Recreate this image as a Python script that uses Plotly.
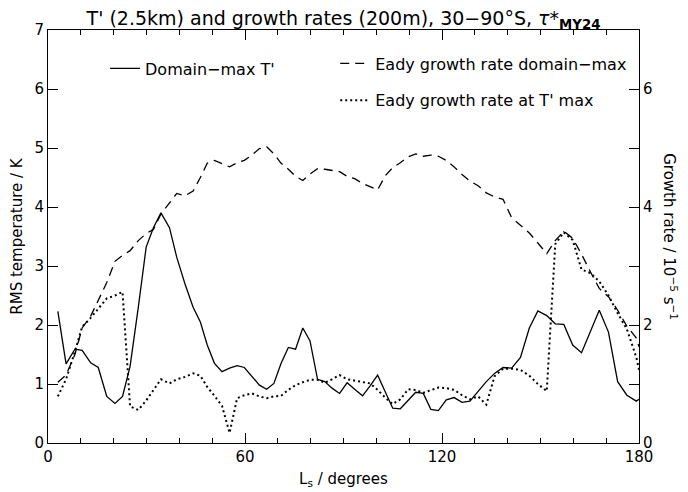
import plotly.graph_objects as go

# Solar longitude (degrees)
ls = [3, 5.5, 8.2, 10.4, 13, 15.3, 17.9, 20.4, 22.7, 25, 27.5, 29.9, 32.1, 34.4, 37, 39.2,
      41.7, 44.2, 46.4, 48.5, 50.7, 53, 55.3, 57.6, 59.8, 62.1, 64.4, 66.6, 68.8, 71, 73.2,
      75.4, 77.6, 79.8, 82.1, 84.3, 86.5, 88.8, 91.1, 93.4, 95.8, 98.1, 100.4, 102.7, 105,
      107.3, 109.7, 112, 114.3, 116.6, 118.9, 121.3, 123.7, 126.1, 128.5, 131, 133.5, 136,
      138.6, 141.2, 143.9, 146.6, 149.2, 151.9, 154.5, 157.1, 159.8, 162.5, 165.2, 167.9,
      170.7, 173.5, 176.3, 179.2, 180]

# Domain-max T' (K)
t_max = [2.23, 1.34, 1.59, 1.57, 1.36, 1.28, 0.79, 0.67, 0.79, 1.3, 2.3, 3.32, 3.65, 3.9,
         3.65, 3.15, 2.7, 2.3, 2.05, 1.66, 1.35, 1.21, 1.27, 1.31, 1.28, 1.12, 0.98, 0.91,
         1.01, 1.35, 1.62, 1.59, 1.95, 1.73, 1.08, 1.04, 0.93, 0.84, 1.02, 0.91, 0.8, 0.97,
         1.15, 0.87, 0.59, 0.58, 0.73, 0.86, 0.84, 0.57, 0.55, 0.73, 0.77, 0.69, 0.71, 0.87,
         1.04, 1.18, 1.28, 1.27, 1.45, 1.95, 2.24, 2.16, 2.02, 2.01, 1.66, 1.53, 1.88, 2.25,
         1.88, 1.04, 0.81, 0.71, 0.74]

# Eady growth rate domain-max (1e-5 s^-1)
eady_max = [1.03, 1.15, 1.5, 1.95, 2.15, 2.42, 2.72, 3.08, 3.18, 3.26, 3.43, 3.55, 3.62,
            3.88, 4.08, 4.23, 4.19, 4.27, 4.5, 4.74, 4.79, 4.73, 4.68, 4.75, 4.79, 4.88,
            4.99, 5.02, 4.9, 4.74, 4.64, 4.52, 4.45, 4.56, 4.65, 4.64, 4.62, 4.6, 4.52, 4.48,
            4.4, 4.34, 4.29, 4.53, 4.67, 4.75, 4.85, 4.9, 4.86, 4.88, 4.86, 4.79, 4.68, 4.55,
            4.44, 4.36, 4.24, 4.17, 4.13, 3.82, 3.69, 3.56, 3.39, 3.21, 3.43, 3.59, 3.47, 3.2,
            2.9, 2.62, 2.48, 2.25, 1.98, 1.78, 1.63]

# Eady growth rate at T' max (1e-5 s^-1)
eady_at_t = [0.79, 1.08, 1.55, 1.97, 2.12, 2.27, 2.45, 2.5, 2.56, 0.62, 0.56, 0.72, 0.9,
             1.08, 1.01, 1.08, 1.12, 1.18, 1.14, 0.95, 0.8, 0.63, 0.17, 0.76, 0.81, 0.84,
             0.79, 0.76, 0.79, 0.8, 0.9, 0.98, 1.03, 1.07, 1.07, 1.02, 1.08, 1.15, 1.08, 1.06,
             1.03, 1.01, 0.9, 0.77, 0.66, 0.74, 0.91, 0.9, 0.85, 0.9, 0.94, 0.93, 0.9, 0.81,
             0.74, 0.79, 0.65, 1.13, 1.26, 1.26, 1.24, 1.14, 1.0, 0.88, 3.37, 3.57, 3.44, 2.94,
             2.88, 2.74, 2.5, 2.2, 1.93, 1.45, 1.24]

x_ticks = [0, 60, 120, 180]
left_ticks = [0, 1, 2, 3, 4, 5, 6, 7]
right_ticks = [0, 2, 4, 6]

FONT = "DejaVu Sans"

fig = go.Figure()
fig.add_trace(go.Scatter(x=ls, y=t_max, mode="lines", name="Domain\u2212max T'",
                         line=dict(color="black", width=1.3), legend="legend", showlegend=True))
fig.add_trace(go.Scatter(x=ls, y=eady_max, mode="lines", name="Eady growth rate domain\u2212max",
                         line=dict(color="black", width=1.3, dash="9px,6px"), yaxis="y2",
                         legend="legend2", legendgroup="a", showlegend=True))
fig.add_trace(go.Scatter(x=ls, y=eady_at_t, mode="lines", name="Eady growth rate at T' max",
                         line=dict(color="black", width=2, dash="2px,3px"), yaxis="y2",
                         legend="legend2", legendgroup="b", showlegend=True))

axis_common = dict(showgrid=False, zeroline=False, showline=True, linecolor="black",
                   linewidth=1, ticks="inside", tickcolor="black", automargin=False,
                   tickfont=dict(family=FONT, size=15, color="black"))

# The page body adds an 8px offset, so the figure is sized 8px smaller to fit the window.
fig.update_layout(
    width=680, height=484,
    margin=dict(l=40, r=49, t=22, b=49, autoexpand=False),
    plot_bgcolor="white", paper_bgcolor="white",
    showlegend=True,
    font=dict(family=FONT, size=15, color="black"),
    title=dict(text="T' (2.5km) and growth rates (200m), 30\u221290\u00b0S, <i>\u03c4</i>*<sub><b>MY24</b></sub>",
               x=0.5, xanchor="center", xref="paper", y=1.0, yanchor="bottom", yref="paper",
               pad=dict(b=5), automargin=False,
               font=dict(family=FONT, size=19, color="black")),
    xaxis=dict(range=[0, 180], tickvals=x_ticks, ticklen=10,
               minor=dict(dtick=10, ticklen=5, ticks="inside", tickcolor="black"),
               mirror="ticks",
               title=dict(text="L<sub>s</sub> / degrees", standoff=8,
                          font=dict(family=FONT, size=15)), **axis_common),
    yaxis=dict(range=[0, 7], tickvals=left_ticks, ticklen=10, mirror=True,
               title=dict(text="RMS temperature / K", standoff=8,
                          font=dict(family=FONT, size=15)), **axis_common),
    yaxis2=dict(range=[0, 7], tickvals=right_ticks, ticklen=10, overlaying="y", side="right",
                minor=dict(dtick=1, ticklen=10, ticks="inside", tickcolor="black"),
                **axis_common),
    legend=dict(x=0.0965, y=0.948, xanchor="left", yanchor="top", bgcolor="rgba(0,0,0,0)",
                font=dict(family=FONT, size=16)),
    legend2=dict(x=0.486, y=0.96, xanchor="left", yanchor="top", bgcolor="rgba(0,0,0,0)",
                 tracegroupgap=13, font=dict(family=FONT, size=16)),
    annotations=[dict(text="Growth rate / 10<sup>\u22125</sup> s<sup>\u22121</sup>",
                      xref="paper", yref="paper", x=1.053, y=0.5, xanchor="center",
                      yanchor="middle", textangle=90,
                      showarrow=False, font=dict(family=FONT, size=15))],
)

fig.write_html("out.html")
